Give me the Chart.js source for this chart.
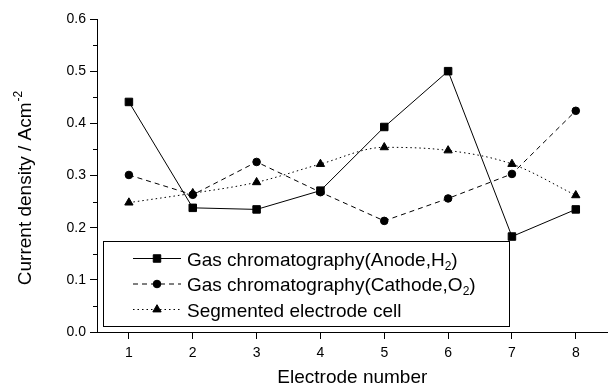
<!DOCTYPE html>
<html>
<head>
<meta charset="utf-8">
<script src="https://cdn.jsdelivr.net/npm/chart.js@4/dist/chart.umd.min.js"></script>
<style>
    html, body { margin: 0; padding: 0; background: #fff; }
    #wrap { width: 614px; height: 387px; }
</style>
</head>
<body>
<div id="wrap"><canvas id="currentChart"></canvas></div>

<script>
    // values
    const electrodes = ["1", "2", "3", "4", "5", "6", "7", "8"]
    const anodeH2 = [0.441, 0.238, 0.235, 0.271, 0.393, 0.500, 0.183, 0.235]
    const cathodeO2 = [0.301, 0.263, 0.326, 0.268, 0.213, 0.256, 0.303, 0.424]
    const segmented = [0.248, 0.266, 0.287, 0.322, 0.354, 0.348, 0.322, 0.262]

    // legend text: main part, subscript, tail
    const seriesNames = [
        ["Gas chromatography(Anode,H", "2", ")"],
        ["Gas chromatography(Cathode,O", "2", ")"],
        ["Segmented electrode cell", "", ""]
    ]
    const yTitle = ["Current density / Acm", "-2"]
    const xTitle = "Electrode number"

    const FONT = "'Liberation Sans', Arial, Helvetica, sans-serif"

    const makeSet = (data, style, radius, dash, mono) => ({
        data: data,
        borderColor: "#000",
        backgroundColor: "#000",
        borderWidth: 1,
        borderDash: dash,
        pointStyle: style,
        pointRadius: radius,
        pointBorderWidth: 1,
        pointBackgroundColor: "#000",
        pointBorderColor: "#000",
        cubicInterpolationMode: mono ? "monotone" : "default",
        tension: 0
    })

    const extras = {
        id: "extras",
        afterDatasetsDraw(chart) {
            const ctx = chart.ctx
            const area = chart.chartArea
            const ys = chart.scales.y
            ctx.save()

            // minor y ticks
            ctx.strokeStyle = "#000"
            ctx.lineWidth = 1
            for (let v = 0.05; v < 0.6; v += 0.1) {
                const py = Math.round(ys.getPixelForValue(v)) + 0.5
                ctx.beginPath()
                ctx.moveTo(area.left - 4, py)
                ctx.lineTo(area.left, py)
                ctx.stroke()
            }

            // legend box
            const bx = area.left + 6, by = area.bottom - 91
            const bw = 406, bh = 85
            ctx.fillStyle = "#fff"
            ctx.fillRect(bx, by, bw, bh)
            ctx.strokeStyle = "#000"
            ctx.lineWidth = 1
            ctx.strokeRect(bx + 0.5, by + 0.5, bw, bh)

            chart.data.datasets.forEach((ds, i) => {
                const cy = by + 17.5 + i * 25.5
                const x0 = bx + 30, x1 = bx + 78
                ctx.strokeStyle = "#000"
                ctx.lineWidth = 1
                ctx.setLineDash(ds.borderDash || [])
                ctx.beginPath()
                ctx.moveTo(x0, cy)
                ctx.lineTo(x1, cy)
                ctx.stroke()
                ctx.setLineDash([])
                ctx.fillStyle = "#000"
                Chart.helpers.drawPoint(ctx, {
                    pointStyle: ds.pointStyle, radius: ds.pointRadius, rotation: 0, borderWidth: 1
                }, (x0 + x1) / 2, cy)

                const [main, sub, tail] = seriesNames[i]
                let tx = bx + 84
                const base = cy + 7
                ctx.font = "19px " + FONT
                ctx.textAlign = "left"
                ctx.textBaseline = "alphabetic"
                ctx.fillText(main, tx, base)
                tx += ctx.measureText(main).width
                if (sub) {
                    ctx.font = "12px " + FONT
                    ctx.fillText(sub, tx, base + 4)
                    tx += ctx.measureText(sub).width
                    ctx.font = "19px " + FONT
                    ctx.fillText(tail, tx, base)
                }
            })

            // x title
            ctx.fillStyle = "#000"
            ctx.font = "19px " + FONT
            ctx.textAlign = "center"
            ctx.textBaseline = "alphabetic"
            ctx.fillText(xTitle, (area.left + area.right) / 2, chart.height - 4)

            // y title with superscript
            ctx.translate(31, (area.top + area.bottom) / 2 + 13)
            ctx.rotate(-Math.PI / 2)
            ctx.font = "19px " + FONT
            const w1 = ctx.measureText(yTitle[0]).width
            ctx.font = "12px " + FONT
            const w2 = ctx.measureText(yTitle[1]).width
            const start = -(w1 + w2) / 2
            ctx.textAlign = "left"
            ctx.font = "19px " + FONT
            ctx.fillText(yTitle[0], start, 0)
            ctx.font = "12px " + FONT
            ctx.fillText(yTitle[1], start + w1 + 1, -9)
            ctx.restore()
        }
    }

    new Chart(currentChart, {
        type: "line",
        data: {
            labels: electrodes,
            datasets: [
                makeSet(anodeH2, "rect", 5.3, [], false),
                makeSet(cathodeO2, "circle", 3.8, [5, 4], false),
                makeSet(segmented, "triangle", 4.8, [1.5, 3], true)
            ]
        },
        options: {
            responsive: true,
            maintainAspectRatio: false,
            animation: false,
            events: [],
            layout: { padding: { top: 19, right: 0, bottom: 0, left: 0 } },
            plugins: {
                legend: { display: false },
                tooltip: { enabled: false }
            },
            scales: {
                x: {
                    type: "category",
                    offset: true,
                    grid: { drawOnChartArea: false, offset: false, tickLength: 7, color: "#000" },
                    border: { color: "#000", width: 1 },
                    ticks: { color: "#000", font: { family: FONT, size: 14 }, padding: 6, maxRotation: 0 },
                    afterFit(s) { s.height = 55 }
                },
                y: {
                    min: 0,
                    max: 0.6,
                    grid: { drawOnChartArea: false, tickLength: 7, color: "#000" },
                    border: { color: "#000", width: 1 },
                    ticks: {
                        stepSize: 0.1,
                        color: "#000",
                        font: { family: FONT, size: 14 },
                        padding: 4,
                        callback: v => v.toFixed(1)
                    },
                    afterFit(s) { s.width = 97 }
                }
            }
        },
        plugins: [extras]
    })
</script>
</body>
</html>
